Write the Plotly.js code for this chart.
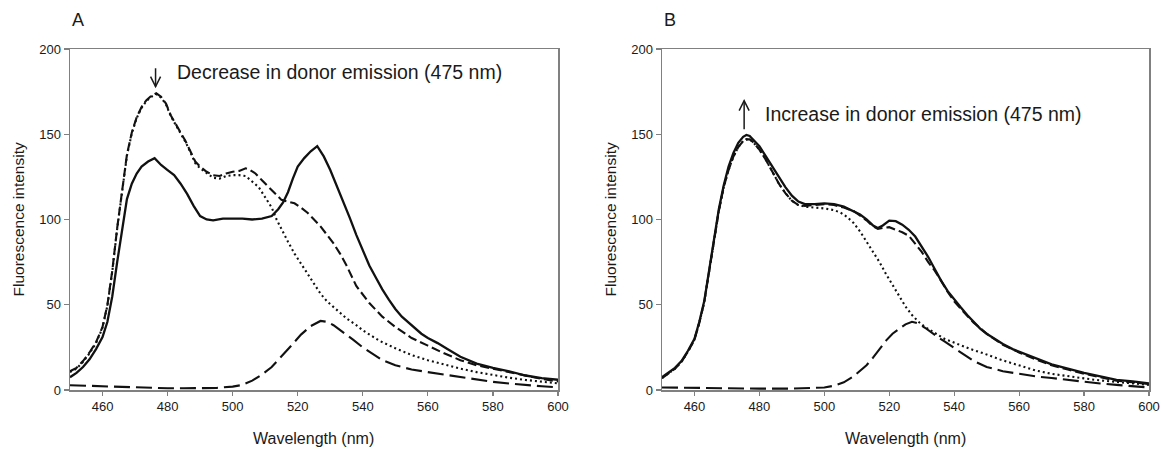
<!DOCTYPE html>
<html><head><meta charset="utf-8">
<script src="https://cdn.plot.ly/plotly-3.0.1.min.js"></script>
<style>html,body{margin:0;padding:0;background:#fff}#chart{width:1161px;height:450px}</style>
</head><body><div id="chart"></div>
<script>
// ---------- text ----------
const panelLabels = ['A', 'B'];
const noteTexts = ['Decrease in donor emission (475 nm)', 'Increase in donor emission (475 nm)'];
const xTitle = 'Wavelength (nm)';
const yTitle = 'Fluorescence intensity';
const xTickVals = [460, 480, 500, 520, 540, 560, 580, 600];
const yTickVals = [0, 50, 100, 150, 200];

// ---------- note / arrow anchors (data units) ----------
const noteX = [482.3, 481.2];
const noteY = [186.7, 161.9];
const arrowX = [476.3, 475.3];
const arrowTail = [188.7, 152.9];
const arrowTip = [177.9, 169.7];

// ---------- Panel A ----------
const aSolidX = [450,452,454,456,458,460,461.5,463,464.5,466,467.5,469,470.5,472,474,476,478,480,482,484,486,488,490,492,494,497,500,503,506,509,512,514,515.5,517,518.5,520,522,524,526,528,530,532,534,536,538,540,542,544,546,548,550,552,554,556,558,560,563,566,570,575,580,585,590,595,600];
const aSolidY = [7.5,10,13.5,18,24,31,40,55,75,95,112,121,127,131,134,136,132,129,126,121,115,108,102,100,99.5,100.5,100.5,100.5,100,100.5,102,106,110,116,124,131,136,140,143,137,129,120,110,101,91,82,73,66,59,53,47.5,43,39.5,36,33,30.5,27.5,24,19.5,15.5,13,11,8.5,7,6];

const aDashX = [450,452,454,456,458,460,461.5,463,464.5,466,467.5,469,470.5,472,473.5,475,476.5,478,479.5,481,482.5,484,485.5,487,488.5,490,492,494,496,498,500,502,504,505,507,509,511,513,515,517,519,521,523,525,527,529,531,533,535,538,540,542,544,546,550,555,560,565,570,575,580,585,590,595,600];
const aDashY = [11,13,17,22,28,37,50,70,95,118,138,151,160,166,170,172.5,174,172,168,161,156,151,146,140,134,131,128,126,125.5,127,128,128.5,130,129.5,127,123,119,115,111.5,110.5,109.5,107,104,100,96,91,86,80,73,61,56,51,47,43,37,30.5,26,21.5,17.5,14.5,12.5,10.5,8.5,6.5,5];

const aDotX = [450,452,454,456,458,460,461.5,463,464.5,466,467.5,469,470.5,472,473.5,475,476.5,478,479.5,481,482.5,484,485.5,487,488.5,490,492,494,496,498,500,502,504,506,508,510,512,513.5,515,517,519,521,523,525,527,529,531,533,535,538,540,545,550,555,560,565,570,575,580,585,590,595,600];
const aDotY = [10.5,12.5,16.5,21.5,27.5,36.5,49.5,69.5,94.5,117.5,137.5,150.5,159.5,165.5,169.5,172,173.5,171.5,167.5,160.5,155.5,150.5,145.5,139.5,133,130,127,124.5,124,125.5,126,126,125.5,122,119,113,107,100,94,87,80,74,68,62,56.5,52,48.5,45,42,38,35,29,24.5,20.5,17.5,15,12.5,10.5,8.8,7.2,5.9,4.8,3.9];

const aLongX = [450,455,460,465,470,475,480,485,490,495,500,503,506,509,512,515,518,521,524,527,529,531,534,537,540,543,546,550,555,560,565,570,575,580,585,590,595,600];
const aLongY = [2.8,2.5,2,1.5,1.2,1,1,1,1,1.2,2,3,5.5,9,13.5,19.5,26,32.5,37.5,40.5,40,38,34,29.5,25,21,17.5,14.5,12,10.5,9,7.5,6,4.8,3.8,2.9,2.2,1.6];

// ---------- Panel B ----------
const bSolidX = [450,452,454,456,458,460,461.5,463,464.5,466,467.5,469,470.5,472,473.5,475,476,477,478,480,482,484,486,488,490,492,494,497,500,503,506,509,511,513,515,516.5,518,520,522,524,526,528,530,532,534,536,538,540,542,544,546,548,550,552,555,558,560,565,570,575,580,585,590,595,600];
const bSolidY = [7.5,10,13,17,23,30,40,52,70,88,106,120,131,139,145,148.5,149.6,149,147,143,137,131,125,119,114,110.5,109,109,109.5,109,107.5,105,103,100,96.5,95,96.5,99.3,99,97,94,90,84,78,71,64,58,53,48.5,44,40,36,33,30.5,27,24,22.5,18.5,15,12.5,10,8,6,5,3.9];

const bDashX = [450,452,454,456,458,460,461.5,463,464.5,466,467.5,469,470.5,472,473.5,475,476,477,478,480,482,484,486,488,490,492,494,497,500,503,506,509,511,513,515,516.5,518,520,522,524,526,528,530,532,534,536,538,540,542,544,546,548,550,555,560,565,570,575,580,585,590,595,600];
const bDashY = [7,9.5,12.5,16.5,22.5,29.5,39.5,51.5,69.5,87,105,119,129,137,142.5,146,147,147,145.5,141,135,128,121,115.5,111,108.5,108,108.5,109,108.5,107,105,102.5,99.5,96,94.5,95,95.5,94,92.5,90.5,86,81,75,70,64,57.5,52,47.5,43.5,39.5,36,33,26.5,22,18,14.5,12,9.5,7.5,5.5,4.5,3.5];

const bDotX = [450,452,454,456,458,460,461.5,463,464.5,466,467.5,469,470.5,472,473.5,475,476,477,478,480,482,484,486,488,490,492,494,497,500,503,505,507,509,511,513,515,517,519,521,523,525,527,529,531,534,537,541,545,549,554,559,565,570,575,580,585,590,595,600];
const bDotY = [7,9.5,12.5,16.5,22.5,29.5,39.5,51.5,69.5,87,105,119,129,137,142.5,146,147,147,145.5,141,135,128,121,115.5,111,108.5,107.5,107,106.5,105.5,104,101.5,98,93,87,81,75,68,61.5,55,49,44,40,37,33.5,30,27,24,21.5,18,15,11.5,9.5,8,6.8,5.6,4.6,3.8,3];

const bLongX = [450,460,470,480,490,495,500,503,506,509,511,513,515,517,519,521,523,525,527,529,531,533,535,537,540,543,546,550,555,560,565,570,575,580,585,590,595,600];
const bLongY = [1.5,1.2,1,0.8,0.8,1,1.5,2.5,4.5,8,11,14.5,19,24,29,33,36,38.5,40,39,36.5,33.5,31,28.5,24.5,20.5,17,13.5,11,9.5,8,7,5.8,4.8,3.8,3,2.2,1.5];

// ---------- build ----------
(function () {
  const FONT = 'Liberation Sans, Arial, Helvetica, sans-serif';
  const INK = '#1a1a1a';
  const W = 1161, H = 450;
  const styles = {
    solid: {color: '#111', width: 2.3, dash: 'solid'},
    dash:  {color: '#111', width: 2.1, dash: '9px,4px'},
    dot:   {color: '#111', width: 2.1, dash: '2px,3px'},
    long:  {color: '#111', width: 2.1, dash: '16px,6px'}
  };
  function tr(x, y, st, xa, ya) {
    return {x: x, y: y, type: 'scatter', mode: 'lines', line: Object.assign({}, styles[st]),
            xaxis: xa, yaxis: ya, hoverinfo: 'skip', showlegend: false};
  }
  const data = [
    tr(aLongX, aLongY, 'long', 'x', 'y'),
    tr(aDotX, aDotY, 'dot', 'x', 'y'),
    tr(aDashX, aDashY, 'dash', 'x', 'y'),
    tr(aSolidX, aSolidY, 'solid', 'x', 'y'),
    tr(bLongX, bLongY, 'long', 'x2', 'y2'),
    tr(bDotX, bDotY, 'dot', 'x2', 'y2'),
    tr(bDashX, bDashY, 'dash', 'x2', 'y2'),
    tr(bSolidX, bSolidY, 'solid', 'x2', 'y2')
  ];

  const plotL = [70, 662], plotR = [558, 1149];
  const pTop = 49, pBottom = 390;
  function xa(i) {
    return {domain: [plotL[i] / W, plotR[i] / W], range: [450, 600], tickvals: xTickVals,
      ticks: 'outside', ticklen: 4, tickwidth: 1.2, tickcolor: '#808080',
      showline: true, linecolor: '#808080', linewidth: 1.5, mirror: true,
      showgrid: false, zeroline: false, fixedrange: true,
      tickfont: {family: FONT, size: 13, color: INK}, anchor: i ? 'y2' : 'y'};
  }
  function ya(i) {
    return {domain: [0, 1], range: [0, 200], tickvals: yTickVals,
      ticks: 'outside', ticklen: 5, tickwidth: 1.2, tickcolor: '#808080',
      showline: true, linecolor: '#808080', linewidth: 1.5, mirror: true,
      showgrid: false, zeroline: false, fixedrange: true,
      tickfont: {family: FONT, size: 13, color: INK}, anchor: i ? 'x2' : 'x'};
  }
  const py = p => (pBottom - p) / (pBottom - pTop);
  const annotations = [];
  const shapes = [];
  for (let i = 0; i < 2; i++) {
    const xr = i ? 'x2' : 'x', yr = i ? 'y2' : 'y';
    annotations.push({xref: xr, yref: yr, x: noteX[i], y: noteY[i], text: noteTexts[i], showarrow: false,
      xanchor: 'left', yanchor: 'middle', font: {family: FONT, size: 19.5, color: INK}});
    annotations.push({xref: 'paper', yref: 'paper', x: (plotL[i] - 52) / W, y: 0.5, text: yTitle, textangle: -90,
      showarrow: false, xanchor: 'center', yanchor: 'middle', font: {family: FONT, size: 15.5, color: INK}});
    annotations.push({xref: 'paper', yref: 'paper', x: (plotL[i] + plotR[i]) / 2 / W, y: py(438), text: xTitle,
      showarrow: false, xanchor: 'center', yanchor: 'middle', font: {family: FONT, size: 16, color: INK}});
    annotations.push({xref: 'paper', yref: 'paper', x: (plotL[i] + 8) / W, y: py(20), text: panelLabels[i],
      showarrow: false, xanchor: 'center', yanchor: 'middle', font: {family: FONT, size: 18, color: INK}});
    const hw = 5 / 3.25, hl = 10 / 1.705 * Math.sign(arrowTail[i] - arrowTip[i]);
    shapes.push({type: 'line', xref: xr, yref: yr, x0: arrowX[i], x1: arrowX[i], y0: arrowTail[i], y1: arrowTip[i],
      line: {color: INK, width: 1.5}});
    shapes.push({type: 'path', xref: xr, yref: yr,
      path: 'M ' + (arrowX[i] - hw) + ',' + (arrowTip[i] + hl) + ' L ' + arrowX[i] + ',' + arrowTip[i] +
            ' L ' + (arrowX[i] + hw) + ',' + (arrowTip[i] + hl),
      line: {color: INK, width: 1.5}});
  }

  const layout = {
    width: W, height: H, margin: {l: 0, r: 0, t: pTop, b: H - pBottom},
    paper_bgcolor: '#fff', plot_bgcolor: '#fff', showlegend: false,
    xaxis: xa(0), yaxis: ya(0), xaxis2: xa(1), yaxis2: ya(1),
    annotations: annotations, shapes: shapes, font: {family: FONT, color: INK}
  };
  Plotly.newPlot('chart', data, layout, {displayModeBar: false, staticPlot: true});
})();
</script></body></html>
